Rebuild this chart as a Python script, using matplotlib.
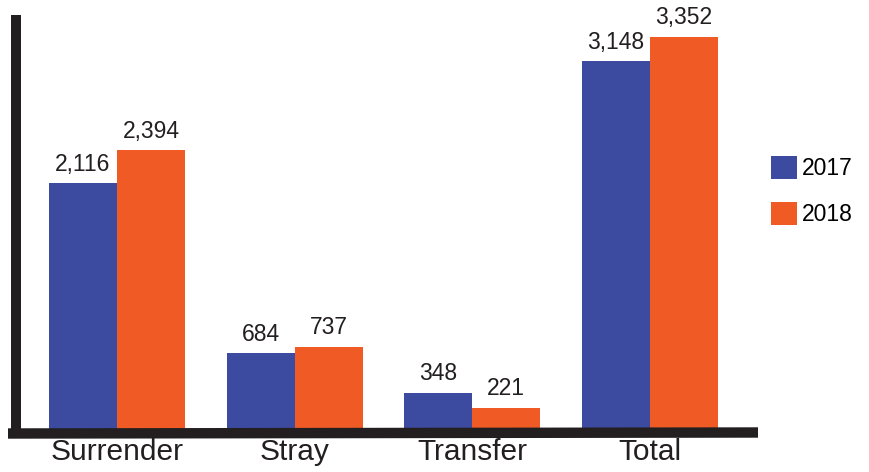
import matplotlib
matplotlib.use("Agg")
import matplotlib.pyplot as plt
from matplotlib.lines import Line2D
import numpy as np

categories = ["Surrender", "Stray", "Transfer", "Total"]
series_names = ["2017", "2018"]
values_2017 = [2116, 684, 348, 3148]
values_2018 = [2394, 737, 221, 3352]
colors = ["#3c4a9f", "#f05a24"]

plt.rcParams['font.family'] = ['Liberation Sans', 'DejaVu Sans']

W, H = 869, 472
fig = plt.figure(figsize=(W / 100, H / 100), dpi=100)

# axes in pixel geometry
left_px, right_px, top_px, bot_px = 16, 758, 15, 434
ax = fig.add_axes([left_px / W, 1 - bot_px / H, (right_px - left_px) / W, (bot_px - top_px) / H])
spacing = 177.6
x0 = 101
ax.set_xlim(-x0 / spacing, (right_px - left_px - x0) / spacing)
ax.set_ylim(0, (bot_px - top_px) / 0.1185)
for s in ax.spines.values():
    s.set_visible(False)
ax.set_yticks([])
ax.set_xticks([])

x = np.arange(len(categories))
bw = 0.383
b1 = ax.bar(x - bw / 2, values_2017, bw, color=colors[0], label=series_names[0])
b2 = ax.bar(x + bw / 2, values_2018, bw, color=colors[1], label=series_names[1])
for bars in (b1, b2):
    for r in bars:
        ax.annotate(f"{int(r.get_height()):,}", (r.get_x() + r.get_width() / 2, r.get_height()),
                    xytext=(0, 5.3), textcoords="offset points", ha="center", va="bottom",
                    fontsize=16.5, color="#231f20")

for xi, c in zip(x, categories):
    ax.annotate(c, (xi, 0), xycoords=ax.get_xaxis_transform(), xytext=(0, -3),
                textcoords="offset points", ha="center", va="top",
                fontsize=21.5, color="#231f20")

# thick axis lines (figure coords)
def fx(px):
    return px / W
def fy(py):
    return 1 - py / H
fig.add_artist(Line2D([fx(16), fx(16)], [fy(15), fy(437)], lw=7.2, color="#231f20",
                      solid_capstyle="butt", transform=fig.transFigure))
fig.add_artist(Line2D([fx(8), fx(758)], [fy(433.5), fy(432.5)], lw=7.5, color="#231f20",
                      solid_capstyle="butt", transform=fig.transFigure))

fig.legend(handles=[b1, b2], labels=series_names, loc="upper left",
           bbox_to_anchor=(fx(771), fy(156)), frameon=False, fontsize=16.5,
           handlelength=1.15, handleheight=1.15, handletextpad=0.2, labelspacing=0.95,
           borderpad=0, borderaxespad=0)

fig.savefig("out.png", dpi=100)
